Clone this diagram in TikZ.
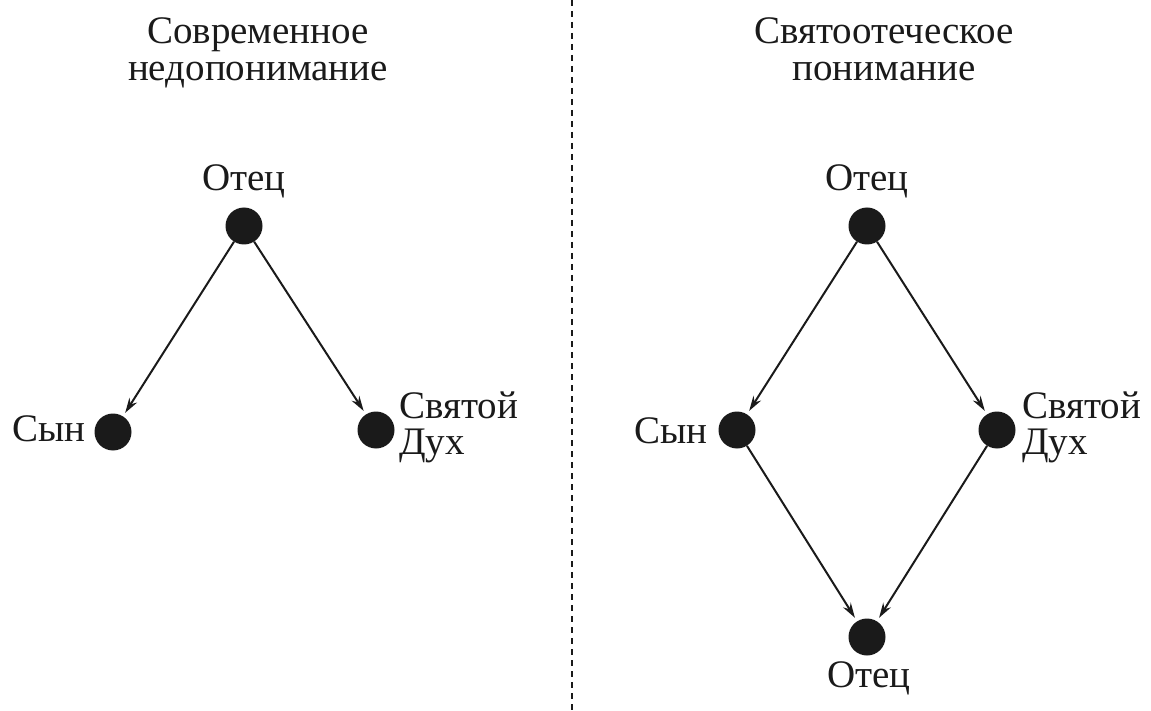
\documentclass[tikz,border=0pt]{standalone}
\usepackage{fontspec}
\setmainfont{Liberation Serif}
\usetikzlibrary{arrows.meta}
\definecolor{ink}{HTML}{1A1A1A}
\begin{document}
\begin{tikzpicture}[x=1pt,y=-1pt,
  every node/.style={text=ink},
  dot/.style={circle,fill=ink,inner sep=0pt,minimum size=37pt},
  lbl/.style={font=\fontsize{39}{36}\selectfont,inner sep=0pt,anchor=base},
  ttl/.style={font=\fontsize{39}{37}\selectfont,inner sep=0pt,anchor=base,align=center},
  arr/.style={draw=ink,line width=2pt,-{Stealth[length=15pt,width=9pt]},shorten >=4pt},
  sep/.style={draw=ink,line width=1.3pt,dash pattern=on 6pt off 5pt}
]
\useasboundingbox (0,0) rectangle (1151,711);
% separator
\coordinate (s1) at (572,0);
\coordinate (s2) at (572,711);
\draw[sep] (s1) -- (s2);
% titles (anchor base = last line baseline)
\node[ttl] (t1) at (258,81) {Современное\\недопонимание};
\node[ttl] (t2) at (884,81) {Святоотеческое\\понимание};
% left diagram
\node[dot] (f1) at (244,226) {};
\node[dot] (s1n) at (113,432) {};
\node[dot] (h1) at (376,430) {};
\node[lbl] (lf1) at (244,191) {Отец};
\node[lbl,anchor=base east] (ls1) at (86,441) {Сын};
\node[lbl,anchor=base west,align=left] (lh1) at (399,454) {Святой\\Дух};
\draw[arr] (f1) -- (s1n);
\draw[arr] (f1) -- (h1);
% right diagram
\node[dot] (f2) at (867,226) {};
\node[dot] (s2n) at (737,430) {};
\node[dot] (h2) at (997,430) {};
\node[dot] (f3) at (867,637) {};
\node[lbl] (lf2) at (867,191) {Отец};
\node[lbl,anchor=base east] (ls2) at (708,443) {Сын};
\node[lbl,anchor=base west,align=left] (lh2) at (1022,454) {Святой\\Дух};
\node[lbl] (lf3) at (869,687) {Отец};
\draw[arr] (f2) -- (s2n);
\draw[arr] (f2) -- (h2);
\draw[arr] (s2n) -- (f3);
\draw[arr] (h2) -- (f3);
\end{tikzpicture}
\end{document}
